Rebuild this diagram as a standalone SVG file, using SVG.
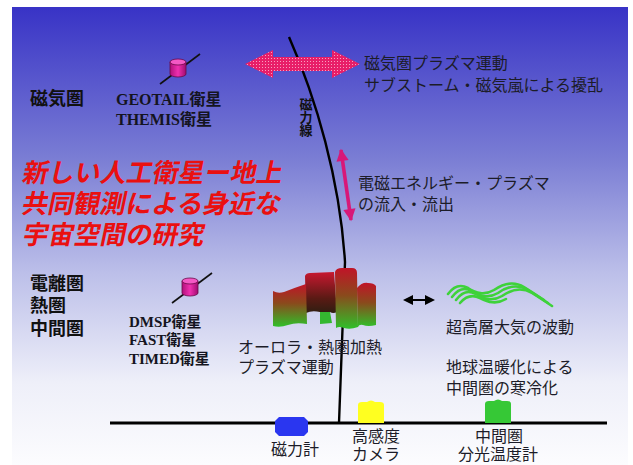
<svg xmlns="http://www.w3.org/2000/svg" width="633" height="465" viewBox="0 0 633 465">
  <defs>
    <linearGradient id="sky" x1="0" y1="7" x2="0" y2="465" gradientUnits="userSpaceOnUse">
      <stop offset="0" stop-color="#3833c6"/>
      <stop offset="0.33" stop-color="#7a7dd4"/>
      <stop offset="0.58" stop-color="#bcbfe9"/>
      <stop offset="0.82" stop-color="#eeeff9"/>
      <stop offset="1" stop-color="#fcfcfe"/>
    </linearGradient>
    <pattern id="stipple" width="3" height="3" patternUnits="userSpaceOnUse">
      <rect width="3" height="3" fill="#e81e68"/>
      <rect x="1" y="1" width="1" height="1" fill="#f7a0c0"/>
    </pattern>
    <linearGradient id="curtain" x1="0" y1="0" x2="0" y2="1">
      <stop offset="0" stop-color="#c01428"/>
      <stop offset="0.45" stop-color="#8a4a1c"/>
      <stop offset="1" stop-color="#2fc02a"/>
    </linearGradient>
    <linearGradient id="curtainDark" x1="0" y1="0" x2="0" y2="1">
      <stop offset="0" stop-color="#c81830"/>
      <stop offset="0.55" stop-color="#5a1a14"/>
      <stop offset="1" stop-color="#1a2010"/>
    </linearGradient>
    <linearGradient id="cyl" x1="0" y1="0" x2="1" y2="0">
      <stop offset="0" stop-color="#b0107a"/>
      <stop offset="0.5" stop-color="#f030b0"/>
      <stop offset="1" stop-color="#a00c70"/>
    </linearGradient>
    <marker id="blackHead" viewBox="0 0 10 10" refX="8" refY="5" markerWidth="5" markerHeight="5" orient="auto-start-reverse">
      <path d="M0,0 L10,5 L0,10 Z" fill="#000"/>
    </marker>
    <marker id="magentaHead" viewBox="0 0 10 10" refX="9" refY="5" markerWidth="3.6" markerHeight="3.4" orient="auto-start-reverse">
      <path d="M0,0 L10,5 L0,10 Z" fill="#d81878"/>
    </marker>
    <symbol id="satellite" overflow="visible">
      <line x1="-18" y1="16" x2="22" y2="-14" stroke="#111" stroke-width="1.6"/>
      <path d="M-8,-6 V6 A8,3 0 0 0 8,6 V-6 Z" fill="url(#cyl)" stroke="#6a0848" stroke-width="0.8"/>
      <ellipse cx="0" cy="-6" rx="8" ry="3" fill="#f458c4" stroke="#6a0848" stroke-width="0.8"/>
    </symbol>
  </defs>
  <style>
    .jp { font-family: "Noto Sans CJK JP", "Noto Sans", sans-serif; font-size: 16px; fill: #1c1c28; }
    .region { font-family: "Noto Sans CJK JP", sans-serif; font-size: 18px; font-weight: bold; fill: #111; }
    .sat { font-family: "Liberation Serif", "Noto Sans CJK JP", serif; font-size: 15px; font-weight: bold; fill: #141420; }
    .sat-top { font-size: 16px; }
    .title { font-family: "Noto Sans CJK JP", sans-serif; font-size: 26px; font-weight: bold; fill: #ea1010; }
    .fieldlabel { font-family: "Noto Sans CJK JP", sans-serif; font-size: 13px; font-weight: bold; fill: #111; writing-mode: vertical-rl; }
  </style>

  <!-- backdrop -->
  <rect width="633" height="465" fill="#fff"/>
  <rect x="12" y="7" width="616" height="458" fill="url(#sky)"/>

  <!-- magnetic field line and ground -->
  <g id="field-line">
    <path d="M289,37 C316,98 340,180 345,262 L339,423" fill="none" stroke="#000" stroke-width="2.4"/>
    <text class="fieldlabel" x="306" y="98">磁力線</text>
  </g>
  <g id="ground">
    <line x1="110" y1="423" x2="607" y2="423" stroke="#000" stroke-width="3.2"/>
  </g>

  <!-- region labels -->
  <g id="magnetosphere-label">
    <text class="region" x="30" y="105">磁気圏</text>
  </g>
  <g id="lower-atmosphere-labels">
    <text class="region" x="30" y="290">電離圏</text>
    <text class="region" x="30" y="312">熱圏</text>
    <text class="region" x="30" y="335">中間圏</text>
  </g>

  <!-- satellites -->
  <g id="sat-geotail">
    <use href="#satellite" x="178" y="68"/>
    <text class="sat sat-top" x="116" y="105">GEOTAIL衛星</text>
    <text class="sat sat-top" x="116" y="125">THEMIS衛星</text>
  </g>
  <g id="sat-dmsp">
    <use href="#satellite" x="190" y="287"/>
    <text class="sat" x="129" y="327">DMSP衛星</text>
    <text class="sat" x="129" y="345">FAST衛星</text>
    <text class="sat" x="129" y="364">TIMED衛星</text>
  </g>

  <!-- headline -->
  <g id="headline" transform="translate(22,0) skewX(-12) translate(-22,0)">
    <text class="title" x="60" y="182">新しい人工衛星ー地上</text>
    <text class="title" x="66" y="213">共同観測による身近な</text>
    <text class="title" x="73" y="244">宇宙空間の研究</text>
  </g>

  <!-- magnetospheric plasma -->
  <g id="magnetosphere-note">
    <text class="jp" x="364" y="69">磁気圏プラズマ運動</text>
    <text class="jp" x="364" y="91">サブストーム・磁気嵐による擾乱</text>
  </g>
  <g id="energy-note">
    <text class="jp" x="358" y="189">電磁エネルギー・プラズマ</text>
    <text class="jp" x="358" y="210">の流入・流出</text>
  </g>

  <!-- aurora curtain -->
  <g id="aurora">
    <path d="M305,276 Q306,273 310,273 L334,272 L337,312 Q333,314 330,312 L328,318 L322,320 L320,312 Q312,310 306,313 Z" fill="url(#curtainDark)"/>
    <path d="M320,312 L330,312 L332,323 L320,324 Z" fill="#34b830"/>
    <path d="M273,291 Q278,294 284,292 Q294,288 306,284 L307,324 Q296,322 288,325 Q280,328 273,326 Z" fill="url(#curtain)"/>
    <path d="M335,272 Q336,268 342,268 L352,268 Q357,268 357,273 L358,327 Q350,330 344,328 Q339,326 336,328 Z" fill="url(#curtain)"/>
    <path d="M357,288 Q362,282 368,283 Q374,283 376,286 L376,325 Q368,327 363,325 Q359,324 358,327 Z" fill="url(#curtain)"/>
    <text class="jp" x="238" y="353">オーロラ・熱圏加熱</text>
    <text class="jp" x="238" y="373">プラズマ運動</text>
  </g>

  <!-- atmospheric waves -->
  <g id="waves" fill="none" stroke="#3ed23a" stroke-width="2.6" stroke-linecap="round">
    <path d="M448,294 C454,286 460,284 468,288 C476,293 484,296 494,290 C504,283 514,281 524,287 C532,292 538,296 544,300"/>
    <path d="M452,297 C458,289 464,287 472,291 C480,296 488,299 498,293 C508,286 518,284 528,290 C536,295 542,299 548,303"/>
    <path d="M456,300 C462,292 468,290 476,294 C484,299 492,302 502,296 C512,289 522,287 532,293 C540,298 546,302 552,306"/>
    <path d="M460,303 C466,296 472,294 480,298 C488,302 496,305 506,299"/>
    <text class="jp" x="446" y="333" stroke="none">超高層大気の波動</text>
  </g>

  <g id="mesosphere-cooling">
    <text class="jp" x="446" y="373">地球温暖化による</text>
    <text class="jp" x="446" y="394">中間圏の寒冷化</text>
  </g>

  <!-- ground instruments -->
  <g id="magnetometer">
    <path d="M279,417 H304 L308,421 V432 L304,436 H279 L275,432 V421 Z" fill="#2a36f0"/>
    <text class="jp" x="271" y="455">磁力計</text>
  </g>
  <g id="camera">
    <path d="M358,423 V405 Q358,402 362,402 L367,402 Q371,399 375,402 L380,402 Q384,402 384,405 V423 Z" fill="#ffff20"/>
    <text class="jp" x="352" y="442">高感度</text>
    <text class="jp" x="352" y="460">カメラ</text>
  </g>
  <g id="spectrometer">
    <path d="M485,423 V404 Q485,401 489,401 L494,401 Q498,398 502,401 L507,401 Q511,401 511,404 V423 Z" fill="#36c836"/>
    <text class="jp" x="475" y="442">中間圏</text>
    <text class="jp" x="458" y="460">分光温度計</text>
  </g>

  <!-- arrows -->
  <g id="connectors">
    <path d="M245,64 L273,50 L273,57 L332,57 L332,50 L360,64 L332,78 L332,71 L273,71 L273,78 Z" fill="url(#stipple)"/>
    <line x1="341" y1="150" x2="351" y2="220" stroke="#d81878" stroke-width="3.6" marker-start="url(#magentaHead)" marker-end="url(#magentaHead)"/>
    <line x1="405" y1="300" x2="433" y2="300" stroke="#000" stroke-width="2" marker-start="url(#blackHead)" marker-end="url(#blackHead)"/>
  </g>
</svg>
